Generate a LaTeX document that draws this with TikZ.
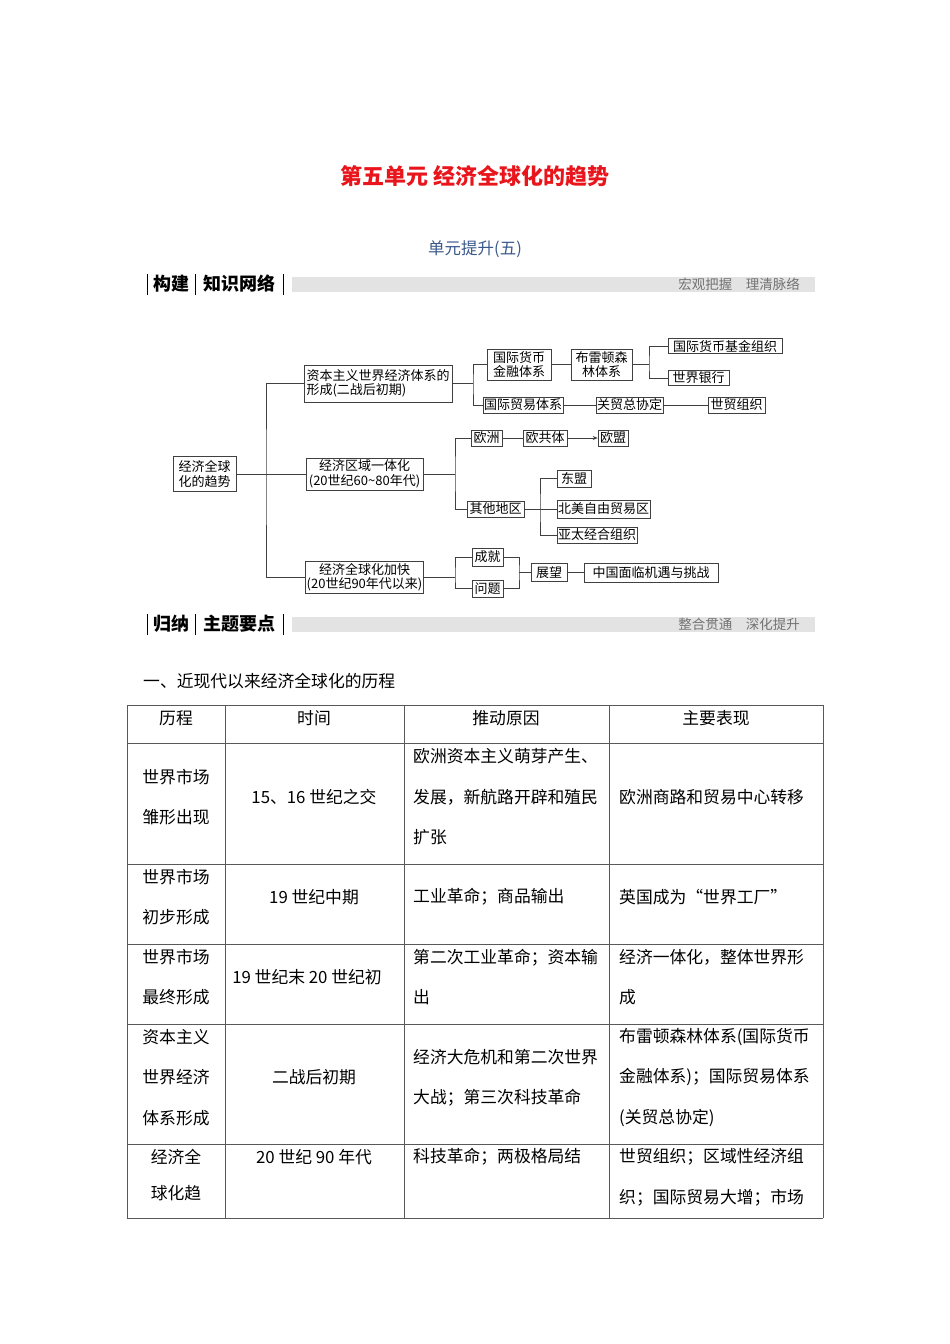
\documentclass[tikz,border=0pt]{standalone}
\usepackage{fontspec}
\setmainfont{Noto Sans CJK SC}
\usepackage{xcolor}
\usetikzlibrary{arrows.meta, positioning}

\definecolor{titlered}{RGB}{232,22,28}
\definecolor{subblue}{RGB}{58,88,138}

\begin{document}
\begin{tikzpicture}[x=1pt, y=-1pt,
    block/.style={rectangle, draw=black!75, line width=0.6pt, fill=white, inner sep=1pt, minimum height=16pt, align=center, font=\fontsize{13}{14.5}\selectfont},
    link/.style={draw=black!75, line width=0.6pt},
    arrow/.style={link, -{Stealth[length=5pt, width=4pt]}},
    rule/.style={draw=black!65, line width=0.8pt},
    cell/.style={inner sep=0pt, align=left, font=\fontsize{16.8}{40.5}\selectfont},
    headtext/.style={inner sep=0pt, font=\fontsize{18}{20}\selectfont\bfseries},
    headnote/.style={inner sep=0pt, text=black!55, font=\fontsize{13.5}{15}\selectfont},
]
\useasboundingbox (0,0) rectangle (950,1344);

% Titles
\node[inner sep=0pt, text=titlered, font=\fontsize{22}{26}\selectfont\bfseries] (title) at (475,176) {第五单元\ 经济全球化的趋势};
\node[inner sep=0pt, text=subblue, font=\fontsize{16.5}{19}\selectfont] (subtitle) at (475,249) {单元提升(五)};

% Section bar 1
\fill[gray!22] (292,277) rectangle (815,292);
\draw[black, line width=0.6pt] (147,274) -- (147,295) (195,274) -- (195,295) (283,274) -- (283,295);
\node[headtext] (bar1a) at (171,284) {构建};
\node[headtext] (bar1b) at (239,284) {知识网络};
\node[headnote, anchor=east] (bar1c) at (800,284) {宏观把握\quad 理清脉络};

% Main flow
\node[block, minimum width=63pt, minimum height=35pt] (trend) at (204.5,474) {经济全球\\化的趋势};
\node[block, minimum width=148pt, minimum height=37pt, align=left] (cap) at (378,383.5) {资本主义世界经济体系的\\形成(二战后初期)};
\node[block, minimum width=117pt, minimum height=32pt] (region) at (364.5,474) {经济区域一体化\\(20世纪60\textasciitilde80年代)};
\node[block, minimum width=117pt, minimum height=32pt] (glob) at (364.5,577) {经济全球化加快\\(20世纪90年代以来)};

% Capitalist world economy branch
\node[block, minimum width=64pt, minimum height=31pt] (money) at (519,364.5) {国际货币\\金融体系};
\node[block, minimum width=61pt, minimum height=31pt] (bretton) at (601.5,364.5) {布雷顿森\\林体系};
\node[block, minimum width=114pt, minimum height=15pt] (imf) at (725,346) {国际货币基金组织};
\node[block, minimum width=61pt, minimum height=15pt] (bank) at (698.5,378) {世界银行};
\node[block, minimum width=80pt] (trade) at (523,405) {国际贸易体系};
\node[block, minimum width=67pt] (gatt) at (629.5,405) {关贸总协定};
\node[block, minimum width=57pt] (wto) at (736.5,405) {世贸组织};

% Regional integration branch
\node[block, minimum width=31pt] (europe) at (486.5,438) {欧洲};
\node[block, minimum width=44pt] (ec) at (545,438) {欧共体};
\node[block, minimum width=30pt] (eu) at (613,438) {欧盟};
\node[block, minimum width=57pt] (other) at (495.5,509) {其他地区};
\node[block, minimum width=34pt, minimum height=17pt] (asean) at (574,478.5) {东盟};
\node[block, minimum width=93pt, minimum height=18pt] (nafta) at (603.5,509) {北美自由贸易区};
\node[block, minimum width=80pt] (apec) at (597,535) {亚太经合组织};

% Globalization branch
\node[block, minimum width=31pt, minimum height=18pt] (gain) at (487.5,557) {成就};
\node[block, minimum width=31pt, minimum height=17pt] (issue) at (487.5,588.5) {问题};
\node[block, minimum width=36pt, minimum height=18pt] (outlook) at (549,572.5) {展望};
\node[block, minimum width=134pt, minimum height=19pt] (china) at (651,572.5) {中国面临机遇与挑战};

% Junctions
\coordinate (trunk) at (266,474);
\coordinate (jcap) at (473,383.5);
\coordinate (jbw) at (649,364.5);
\coordinate (jreg) at (455,474);
\coordinate (joth) at (540,509);
\coordinate (jglob) at (455,577);
\coordinate (jout) at (519,572.5);

% Arrows
\draw[link] (trend.east) -- (region.west);
\draw[link] (cap.west) -| (trunk) |- (glob.west);
\draw[link] (cap.east) -- (jcap);
\draw[link] (money.west) -| (jcap) |- (trade.west);
\draw[link] (money) -- (bretton);
\draw[link] (bretton.east) -- (jbw);
\draw[link] (imf.west) -| (jbw) |- (bank.west);
\draw[link] (trade) -- (gatt);
\draw[link] (gatt) -- (wto);
\draw[link] (region.east) -- (jreg);
\draw[link] (europe.west) -| (jreg) |- (other.west);
\draw[link] (europe) -- (ec);
\draw[arrow] (ec) -- (eu);
\draw[link] (other.east) -- (nafta.west);
\draw[link] (asean.west) -| (joth) |- (apec.west);
\draw[link] (glob.east) -- (jglob);
\draw[link] (gain.west) -| (jglob) |- (issue.west);
\draw[link] (gain.east) -| (jout) |- (issue.east);
\draw[link] (jout) -- (outlook.west);
\draw[link] (outlook) -- (china);

% Section bar 2
\fill[gray!22] (292,617) rectangle (815,632);
\draw[black, line width=0.6pt] (147,614) -- (147,635) (195,614) -- (195,635) (283,614) -- (283,635);
\node[headtext] (bar2a) at (171,624) {归纳};
\node[headtext] (bar2b) at (239,624) {主题要点};
\node[headnote, anchor=east] (bar2c) at (800,624) {整合贯通\quad 深化提升};

\node[cell, anchor=west] (sec1) at (143,681) {一、近现代以来经济全球化的历程};

% Table
\foreach \x in {127,225,404,609,823}
  \draw[rule] (\x,705) -- (\x,1218);
\foreach \y in {705,743,864,944,1024,1144,1218}
  \draw[rule] (127,\y) -- (823,\y);

\node[cell] (h1) at (176,718) {历程};
\node[cell] (h2) at (314,718) {时间};
\node[cell] (h3) at (506,718) {推动原因};
\node[cell] (h4) at (716,718) {主要表现};

\node[cell, align=center] (r1a) at (176,797) {世界市场\\雏形出现};
\node[cell] (r1b) at (314,797) {15、16 世纪之交};
\node[cell, anchor=west] (r1c) at (413,797) {欧洲资本主义萌芽产生、\\发展，新航路开辟和殖民\\扩张};
\node[cell, anchor=west] (r1d) at (619,797) {欧洲商路和贸易中心转移};

\node[cell, align=center] (r2a) at (176,897) {世界市场\\初步形成};
\node[cell] (r2b) at (314,897) {19 世纪中期};
\node[cell, anchor=west] (r2c) at (413,897) {工业革命；商品输出};
\node[cell, anchor=west] (r2d) at (619,897) {英国成为“世界工厂”};

\node[cell, align=center] (r3a) at (176,977) {世界市场\\最终形成};
\node[cell] (r3b) at (307,977) {19 世纪末 20 世纪初};
\node[cell, anchor=west] (r3c) at (413,977) {第二次工业革命；资本输\\出};
\node[cell, anchor=west] (r3d) at (619,977) {经济一体化，整体世界形\\成};

\node[cell, align=center] (r4a) at (176,1077.5) {资本主义\\世界经济\\体系形成};
\node[cell] (r4b) at (314,1077.5) {二战后初期};
\node[cell, anchor=west] (r4c) at (413,1077.5) {经济大危机和第二次世界\\大战；第三次科技革命};
\node[cell, anchor=west] (r4d) at (619,1077.5) {布雷顿森林体系(国际货币\\金融体系)；国际贸易体系\\(关贸总协定)};

\node[cell, align=center, font=\fontsize{16.8}{36}\selectfont] (r5a) at (176,1175) {经济全\\球化趋};
\node[cell] (r5b) at (314,1157) {20 世纪 90 年代};
\node[cell, anchor=west] (r5c) at (413,1157) {科技革命；两极格局结};
\node[cell, anchor=west] (r5d) at (619,1177.5) {世贸组织；区域性经济组\\织；国际贸易大增；市场};

\end{tikzpicture}
\end{document}
